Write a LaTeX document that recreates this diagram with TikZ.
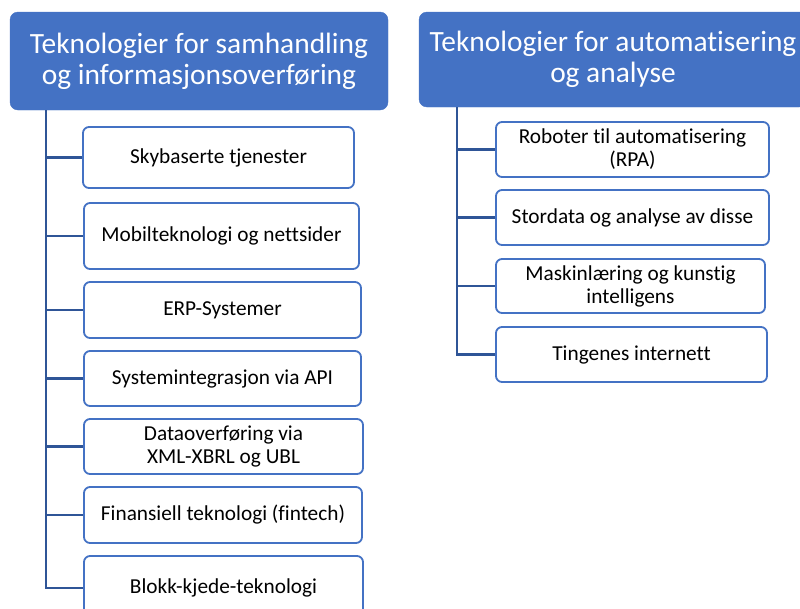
\documentclass[tikz,border=0pt]{standalone}
\usepackage{fontspec}
\setmainfont{Carlito}[Ligatures=NoCommon]
\definecolor{hdrblue}{HTML}{4472C4}
\definecolor{linkblue}{HTML}{2F5597}
\begin{document}
\begin{tikzpicture}[x=1pt,y=-1pt,
  header/.style={draw=hdrblue, fill=hdrblue, rounded corners=8pt, text=white,
    font=\fontsize{29.4}{31}\selectfont, align=center, inner sep=0pt},
  item/.style={draw=hdrblue, line width=1.8pt, fill=white, rounded corners=6pt,
    font=\fontsize{21.3}{23}\selectfont, align=center, inner sep=0pt},
  trunk/.style={draw=linkblue, line width=2.6pt}]
\clip (0,0) rectangle (800,608);
\useasboundingbox (0,0) rectangle (800,608);

% left column
\node[header, minimum width=378pt, minimum height=98pt] (hl) at (199,61)
  {Teknologier for samhandling\\og informasjonsoverføring};
\node[item, minimum width=271pt, minimum height=61pt] (b1) at (218.5,157.5) {Skybaserte tjenester};
\node[item, minimum width=275pt, minimum height=66pt] (b2) at (221.5,236) {Mobilteknologi og nettsider};
\node[item, minimum width=277pt, minimum height=56pt] (b3) at (222.5,310) {ERP-Systemer};
\node[item, minimum width=277pt, minimum height=55pt] (b4) at (222.5,378.5) {Systemintegrasjon via API};
\node[item, minimum width=279pt, minimum height=55pt] (b5) at (223.5,446.5) {Dataoverføring via\\XML-XBRL og UBL};
\node[item, minimum width=278pt, minimum height=56pt] (b6) at (223,515) {Finansiell teknologi (fintech)};
\node[item, minimum width=279pt, minimum height=64pt] (b7) at (223.5,588) {Blokk-kjede-teknologi};

\coordinate (lt) at (46,110);
\draw[trunk] (lt) |- (b7.west);
\foreach \b in {b1,b2,b3,b4,b5,b6}
  \draw[trunk] (\b.west -| lt) -- (\b.west);

% right column
\node[header, minimum width=388pt, minimum height=95pt] (hr) at (613,59.5)
  {Teknologier for automatisering\\og analyse};
\node[item, minimum width=273pt, minimum height=55pt] (r1) at (632.5,149.5) {Roboter til automatisering\\(RPA)};
\node[item, minimum width=273pt, minimum height=55pt] (r2) at (632.5,217.5) {Stordata og analyse av disse};
\node[item, minimum width=269pt, minimum height=54pt] (r3) at (630.5,286) {Maskinlæring og kunstig\\intelligens};
\node[item, minimum width=271pt, minimum height=55pt] (r4) at (631.5,354.5) {Tingenes internett};

\coordinate (rt) at (457,107);
\draw[trunk] (rt) |- (r4.west);
\foreach \b in {r1,r2,r3}
  \draw[trunk] (\b.west -| rt) -- (\b.west);
\end{tikzpicture}
\end{document}
